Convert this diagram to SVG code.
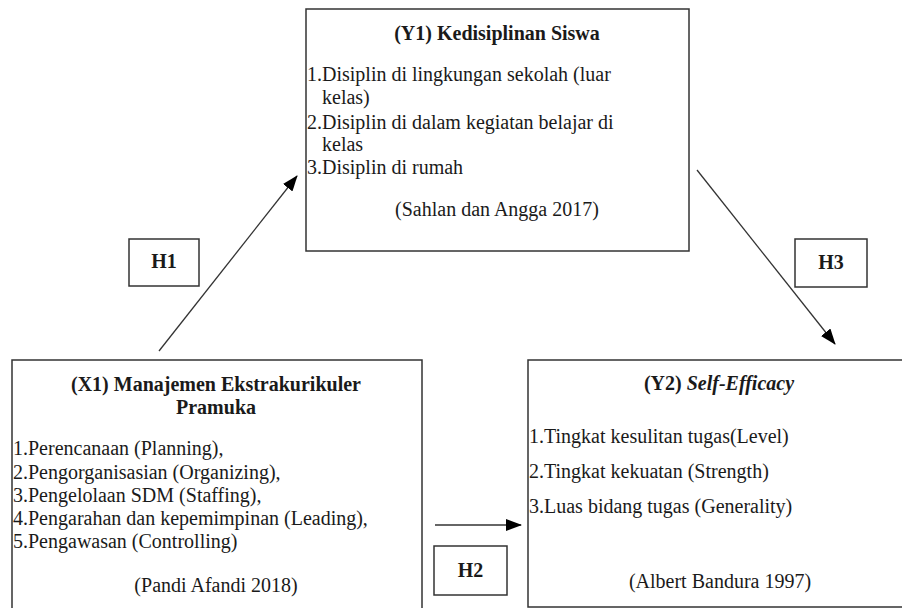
<svg xmlns="http://www.w3.org/2000/svg" width="902" height="608" viewBox="0 0 902 608" font-family="'Liberation Serif', 'Times New Roman', Tinos, 'DejaVu Serif', serif">
<style>
.box{fill:#fff;stroke:#333;stroke-width:1.5}
.t{font-family:'Liberation Serif','Times New Roman',Tinos,'DejaVu Serif',serif;font-size:20px;fill:#1a1a1a}
.b{font-weight:bold}
.c{text-anchor:middle}
.edge{stroke:#333;stroke-width:1.3;fill:none;marker-end:url(#ah)}
</style>
<defs>
<marker id="ah" markerWidth="16" markerHeight="12" refX="15" refY="6" orient="auto" markerUnits="userSpaceOnUse">
<path d="M0,0 L16,6 L0,12 Z" fill="#000"/>
</marker>
</defs>
<rect width="902" height="608" fill="#fff"/>
<g id="connectors">
<line class="edge" x1="159" y1="351" x2="297" y2="176"/>
<line class="edge" x1="697" y1="170" x2="835" y2="344"/>
<line class="edge" x1="435" y1="525" x2="521" y2="525"/>
</g>
<g id="Y1">
<rect class="box" x="306" y="9" width="383" height="242"/>
<text class="t b c" x="497" y="40">(Y1) Kedisiplinan Siswa</text>
<text class="t" x="307" y="81">1.Disiplin di lingkungan sekolah (luar</text>
<text class="t" x="322" y="104">kelas)</text>
<text class="t" x="307" y="129">2.Disiplin di dalam kegiatan belajar di</text>
<text class="t" x="322" y="151">kelas</text>
<text class="t" x="307" y="174">3.Disiplin di rumah</text>
<text class="t c" x="497" y="216">(Sahlan dan Angga 2017)</text>
</g>
<g id="X1">
<rect class="box" x="12" y="360" width="410" height="260"/>
<text class="t b c" x="216" y="391">(X1) Manajemen Ekstrakurikuler</text>
<text class="t b c" x="216" y="414">Pramuka</text>
<text class="t" x="13" y="455">1.Perencanaan (Planning),</text>
<text class="t" x="13" y="479">2.Pengorganisasian (Organizing),</text>
<text class="t" x="13" y="502">3.Pengelolaan SDM (Staffing),</text>
<text class="t" x="13" y="525">4.Pengarahan dan kepemimpinan (Leading),</text>
<text class="t" x="13" y="548">5.Pengawasan (Controlling)</text>
<text class="t c" x="216" y="592">(Pandi Afandi 2018)</text>
</g>
<g id="Y2">
<rect class="box" x="528" y="360" width="400" height="247"/>
<text class="t b c" x="719" y="390">(Y2) <tspan font-style="italic">Self-Efficacy</tspan></text>
<text class="t" x="529" y="443">1.Tingkat kesulitan tugas(Level)</text>
<text class="t" x="529" y="478">2.Tingkat kekuatan (Strength)</text>
<text class="t" x="529" y="513">3.Luas bidang tugas (Generality)</text>
<text class="t c" x="720" y="588">(Albert Bandura 1997)</text>
</g>
<g id="H1">
<rect class="box" x="129" y="239" width="70" height="47"/>
<text class="t b c" x="164" y="268">H1</text>
</g>
<g id="H2">
<rect class="box" x="434" y="546" width="73" height="49"/>
<text class="t b c" x="470.5" y="577">H2</text>
</g>
<g id="H3">
<rect class="box" x="795" y="239" width="72" height="48"/>
<text class="t b c" x="831" y="269">H3</text>
</g>
</svg>
